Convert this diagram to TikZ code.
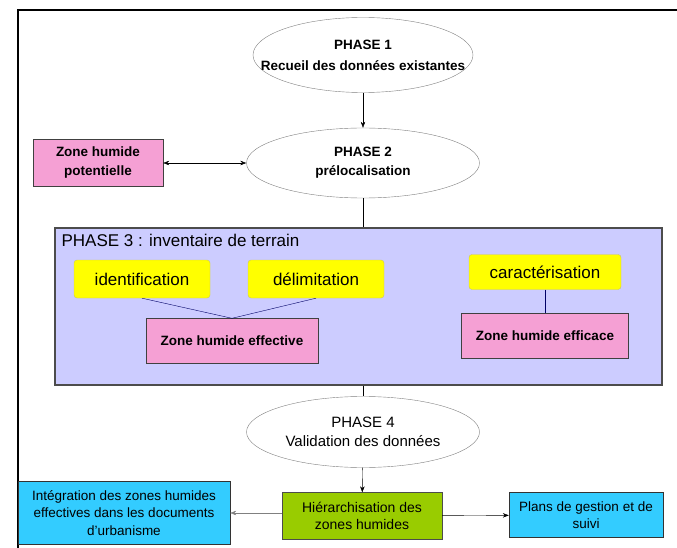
\documentclass[tikz,border=0pt]{standalone}
\usepackage{fontspec}
\setmainfont{Liberation Sans}
\usetikzlibrary{shapes, arrows.meta, positioning}
\definecolor{rose}{RGB}{245,160,212}
\definecolor{lavande}{RGB}{204,204,255}
\definecolor{jaune}{RGB}{255,255,0}
\definecolor{vert}{RGB}{153,204,0}
\definecolor{bleu}{RGB}{51,204,255}
\tikzstyle{phase} = [ellipse, draw=gray, fill=white, align=center, inner xsep=-30pt, inner ysep=0pt, minimum width=233pt, minimum height=71pt, font=\fontsize{15}{19}\selectfont]
\tikzstyle{zone} = [rectangle, draw=black!75, fill=rose, align=center, minimum height=45pt, font=\bfseries\fontsize{13.5}{19}\selectfont]
\tikzstyle{etape} = [rectangle, rounded corners=3pt, draw=yellow!55!gray, fill=jaune, minimum width=136pt, minimum height=38pt, font=\fontsize{17}{20}\selectfont]
\tikzstyle{action} = [rectangle, draw=black!80, fill=bleu, align=center, font=\fontsize{13.5}{17.5}\selectfont]

\begin{document}
\begin{tikzpicture}[x=1pt, y=-1pt, node distance=108pt]
\useasboundingbox (0,0) rectangle (677,548);
\draw [line width=2pt] (18,548) -- (18,10) -- (677,10);
\node (phase1) [phase, minimum width=220pt, minimum height=75pt, font=\bfseries\fontsize{13.5}{21}\selectfont] at (363,55) {PHASE 1\\Recueil des données existantes};
\node (phase2) [phase, minimum height=70pt, font=\bfseries\fontsize{13.5}{19}\selectfont, below of=phase1] {PHASE 2\\prélocalisation};
\node (potentielle) [zone, minimum width=130pt, minimum height=47pt, left of=phase2, xshift=-157pt] {Zone humide\\potentielle};
\node (phase3) [rectangle, draw=black!70, line width=1.2pt, fill=lavande, minimum width=607pt, minimum height=157pt, below of=phase2, xshift=-4.5pt, yshift=-35.5pt] {};
\node (titre) [anchor=north west, inner sep=0pt, xshift=7pt, yshift=-7pt, font=\fontsize{17}{20}\selectfont] at (phase3.north west) {PHASE 3 : inventaire de terrain};
\node (identification) [etape, left of=phase3, xshift=-108.5pt, yshift=27.5pt] {identification};
\node (delimitation) [etape, right of=identification, xshift=66pt] {délimitation};
\node (effective) [zone, minimum width=172pt, below of=identification, xshift=90pt, yshift=46pt] {Zone humide effective};
\node (caracterisation) [etape, minimum width=152pt, minimum height=35pt, right of=delimitation, xshift=121pt, yshift=7pt] {caractérisation};
\node (efficace) [zone, minimum width=167pt, below of=caracterisation, yshift=44pt] {Zone humide efficace};
\node (phase4) [phase, below of=phase2, yshift=-161pt] {PHASE 4\\Validation des données};
\node (hierarchisation) [rectangle, draw=black!70, fill=vert, align=center, minimum width=160pt, minimum height=47pt, font=\fontsize{14}{17}\selectfont, below of=phase4, xshift=-1pt, yshift=24pt] {Hiérarchisation des\\zones humides};
\node (integration) [action, minimum width=212pt, minimum height=63pt, left of=hierarchisation, xshift=-130pt, yshift=3pt] {Intégration des zones humides\\effectives dans les documents\\d'urbanisme};
\node (plans) [action, minimum width=154pt, minimum height=45pt, right of=hierarchisation, xshift=116pt, yshift=1pt] {Plans de gestion et de\\suivi};
\draw [-{Stealth[length=6pt]}] (phase1) -- (phase2);
\draw [{Stealth[length=6pt]}-{Stealth[length=6pt]}] (potentielle) -- (phase2);
\draw (phase2.south) -- (phase2.south |- phase3.north);
\draw [draw=blue!40!black] (identification.south) -- (effective.north);
\draw [draw=blue!40!black] (delimitation.south) -- (effective.north);
\draw [draw=blue!40!black] (caracterisation) -- (efficace);
\draw (phase4.north |- phase3.south) -- (phase4.north);
\draw [-{Stealth[length=6pt]}] (phase4) -- (hierarchisation);
\draw [-{Stealth[length=6pt]}, draw=gray] (hierarchisation.west |- integration) -- (integration.east);
\draw [-{Stealth[length=6pt]}] (hierarchisation) -- (plans);
\end{tikzpicture}
\end{document}
